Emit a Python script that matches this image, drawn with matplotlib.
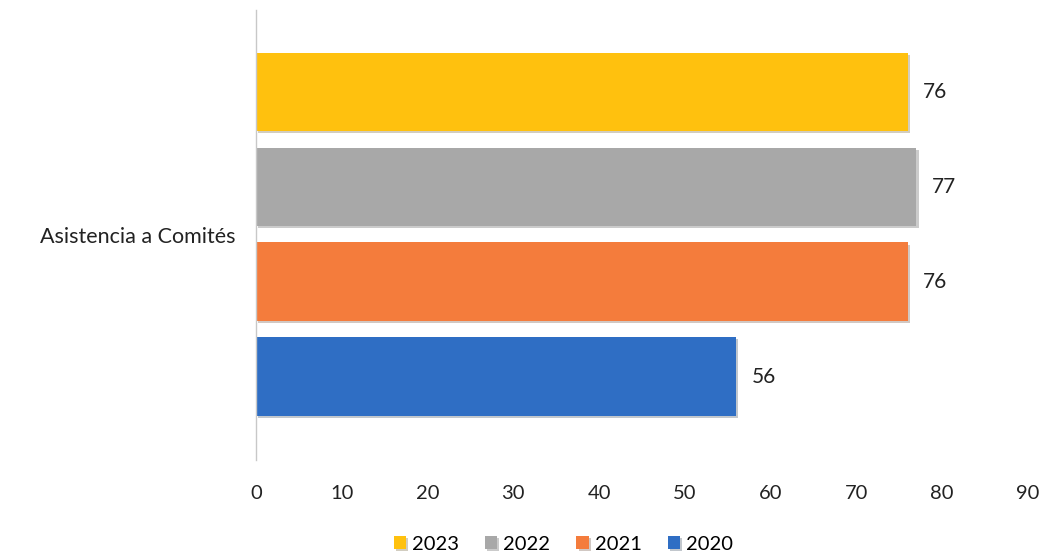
import matplotlib
matplotlib.use('Agg')
import matplotlib.pyplot as plt
import matplotlib.patheffects as pe

plt.rcParams['font.family'] = ['Lato', 'DejaVu Sans']

categoria = 'Asistencia a Comités'
anios = ['2020', '2021', '2022', '2023']
valores = [56, 76, 77, 76]
colores = ['#2F6EC4', '#F47C3C', '#A8A8A8', '#FFC10E']

fig = plt.figure(figsize=(10.49, 5.56), dpi=100)
ax = fig.add_axes([0.244, 0.173, 0.736, 0.809])

barras = []
for i, (a, v, c) in enumerate(zip(anios, valores, colores)):
    b = ax.barh(i, v, height=0.83, color=c, label=a,
                path_effects=[pe.SimplePatchShadow(offset=(1.5, -1.5), alpha=0.25), pe.Normal()])
    barras.append(b)
    ax.text(v + 1.8, i, str(v), va='center', ha='left', fontsize=15, color='#222222')

ax.set_xlim(0, 90)
ax.set_ylim(-0.874, 3.863)
ax.set_xticks(range(0, 91, 10))
ax.tick_params(axis='x', length=0, pad=18, labelsize=14.5, colors='#222222')
ax.set_yticks([])
for s in ['top', 'right', 'bottom']:
    ax.spines[s].set_visible(False)
ax.spines['left'].set_color('#C8C8C8')
ax.spines['left'].set_linewidth(1)

fig.text(236 / 1049, 1 - 237 / 556, categoria, ha='right', va='center', fontsize=15.5, color='#222222')

handles = barras[::-1]
fig.legend(handles, anios[::-1], loc='center', bbox_to_anchor=(0.537, 1 - 544 / 556),
           ncol=4, frameon=False, fontsize=14.5, handlelength=0.6, handleheight=0.6,
           handletextpad=0.3, columnspacing=1.3)

fig.savefig('out.png', dpi=100)
